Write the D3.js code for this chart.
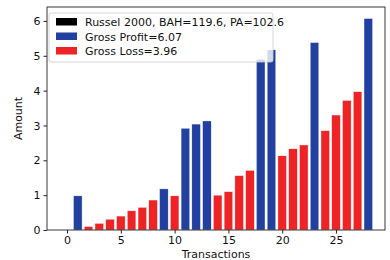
<!DOCTYPE html>
<html lang="en">
<head>
    <meta charset="UTF-8">
    <title>Gross profit and loss</title>
    <script src="https://d3js.org/d3.v7.min.js"></script>
</head>
<style>
    body { margin: 0; background: #fff; }
    svg text {
        font-family: "DejaVu Sans", sans-serif;
        font-size: 11px;
        fill: #111;
    }
</style>
<body>
<script>
    // cumulative amounts per transaction
    const transactions = d3.range(0, 29)
    const kinds = ["none", "profit", "loss", "loss", "loss", "loss", "loss", "loss", "loss", "profit",
        "loss", "profit", "profit", "profit", "loss", "loss", "loss", "loss", "profit", "profit",
        "loss", "loss", "loss", "profit", "loss", "loss", "loss", "loss", "profit"]
    const amounts = [0, 0.98, 0.10, 0.19, 0.31, 0.40, 0.55, 0.65, 0.86, 1.18,
        0.98, 2.92, 3.04, 3.13, 1.00, 1.10, 1.56, 1.71, 4.90, 5.17,
        2.13, 2.33, 2.44, 5.38, 2.85, 3.30, 3.72, 3.97, 6.07]
    const xTicks = [0, 5, 10, 15, 20, 25]
    const yTicks = [0, 1, 2, 3, 4, 5, 6]
    const legendLabels = ["Russel 2000, BAH=119.6, PA=102.6", "Gross Profit=6.07", "Gross Loss=3.96"]
    const legendColors = ["#000000", "#2140a0", "#ee2326"]

    const margin = { top: 7, right: 5, bottom: 30, left: 47 }
    const width = 390 - margin.left - margin.right
    const height = 260 - margin.top - margin.bottom

    const x = d3.scaleLinear().domain([-1.86, 29.55]).range([0, width])
    const y = d3.scaleLinear().domain([0, 6.4]).range([height, 0])

    const svg = d3.select("body").append("svg")
        .attr("width", 390)
        .attr("height", 260)
        .append("g")
            .attr("transform", "translate(" + margin.left + "," + margin.top + ")")

    const color = k => k === "profit" ? legendColors[1] : legendColors[2]

    svg.selectAll(".bar")
        .data(transactions.filter(i => kinds[i] !== "none"))
        .enter().append("rect")
            .attr("class", "bar")
            .attr("x", i => x(i - 0.4))
            .attr("width", i => x(i + 0.4) - x(i - 0.4))
            .attr("y", i => y(amounts[i]))
            .attr("height", i => y(0) - y(amounts[i]))
            .attr("fill", i => color(kinds[i]))
            .attr("stroke", "#fff")
            .attr("stroke-width", 0.4)

    const xAxis = svg.append("g")
        .attr("transform", "translate(0," + height + ")")
        .call(d3.axisBottom(x).tickValues(xTicks).tickFormat(d3.format("d")).tickSize(3.5).tickPadding(3))
    const yAxis = svg.append("g")
        .call(d3.axisLeft(y).tickValues(yTicks).tickFormat(d3.format("d")).tickSize(3.5).tickPadding(3))
    ;[xAxis, yAxis].forEach(a => {
        a.select(".domain").remove()
        a.selectAll("text").style("font-size", "11px")
        a.selectAll("line").attr("stroke", "#222")
    })

    // frame
    svg.append("rect")
        .attr("width", width)
        .attr("height", height)
        .attr("fill", "none")
        .attr("stroke", "#222")
        .attr("stroke-width", 0.9)

    // legend
    const legend = svg.append("g").attr("transform", "translate(2,6)")
    legend.append("rect")
        .attr("width", 224)
        .attr("height", 49)
        .attr("rx", 2)
        .attr("fill", "#fff")
        .attr("fill-opacity", 0.8)
        .attr("stroke", "#ccc")
        .attr("stroke-width", 0.8)
    legendLabels.forEach((t, i) => {
        legend.append("rect")
            .attr("x", 7)
            .attr("y", 5 + i * 14.5)
            .attr("width", 21)
            .attr("height", 7.5)
            .attr("fill", legendColors[i])
        legend.append("text")
            .attr("x", 36)
            .attr("y", 13 + i * 14.5)
            .text(t)
    })

    svg.append("text")
        .attr("transform", "translate(" + (width / 2) + "," + (height + 28) + ")")
        .style("text-anchor", "middle")
        .text("Transactions")
    svg.append("text")
        .attr("transform", "rotate(-90)")
        .attr("x", -height / 2)
        .attr("y", -25)
        .style("text-anchor", "middle")
        .text("Amount")
</script>
</body>
</html>
